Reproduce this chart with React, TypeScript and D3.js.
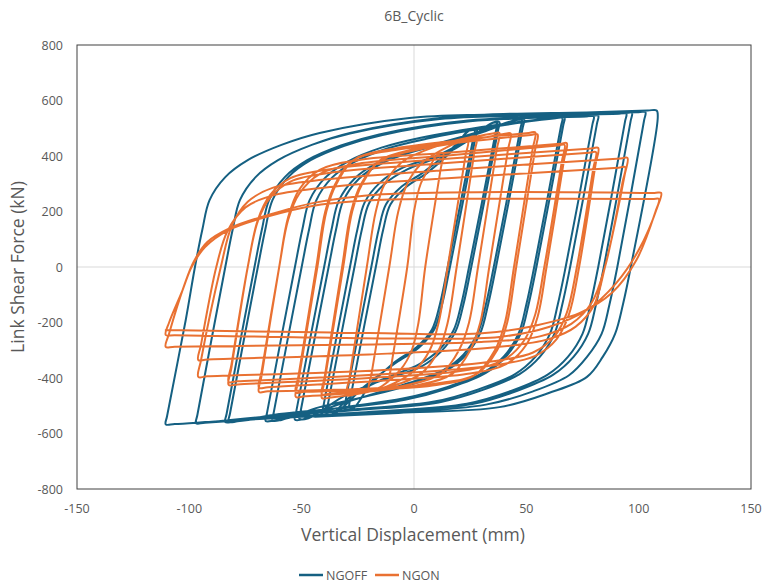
import React from "react";
import * as d3 from "d3";

// Axis ticks and series labels
const X_TICKS = [-150, -100, -50, 0, 50, 100, 150];
const Y_TICKS = [-800, -600, -400, -200, 0, 200, 400, 600, 800];
const SERIES_NAMES = ["NGOFF", "NGON"];
const SERIES_COLORS = ["#156082", "#E97132"];

type Pt = [number, number];

// NGOFF hysteresis: each loop = reloading branch from the negative peak to the
// positive peak, then the unloading branch back toward the next negative peak.
// [displacement (mm), shear force (kN)]
const NGOFF_LOOPS: Pt[][] = [
  [[-29,-505],[-28.4,-475],[-17,0],[-13.7,135],[-10.5,225],[-3.5,288],[6,340],[17,420],[24,490],[27,495],[26.4,465],[15,0],[11.5,-135],[8,-225],[1,-290],[-9,-345],[-20,-430],[-27,-508]],
  [[-31,-510],[-30.4,-480],[-19,0],[-15.7,135],[-12.5,225],[-5.5,290],[4,340],[16,420],[25,494],[28,498],[27.4,468],[16,0],[12.5,-135],[9,-225],[2,-292],[-8,-345],[-22,-430],[-35,-526]],
  [[-39,-528],[-38.4,-498],[-26.5,0],[-23.2,135],[-20,230],[-13,300],[-3,352],[12,400],[25,460],[34,516],[37,518],[36.4,488],[24.5,0],[21,-135],[17.5,-230],[11,-300],[2,-352],[-14,-405],[-28,-465],[-37,-533]],
  [[-41,-535],[-40.4,-505],[-28.5,0],[-25.2,135],[-22,232],[-15,305],[-5,358],[10,400],[24,460],[35,520],[38,522],[37.4,492],[25.5,0],[22,-135],[18.5,-232],[12,-305],[3,-360],[-13,-405],[-30,-460],[-47,-545]],
  [[-51,-547],[-50.4,-517],[-38,0],[-34.7,135],[-31.5,238],[-24.5,318],[-14.5,373],[0.5,418],[17,452],[32,490],[45,529],[48,530],[47.4,500],[35.5,0],[32,-135],[28.5,-236],[22,-316],[13,-372],[-3,-420],[-20,-462],[-37,-505],[-49,-548]],
  [[-53,-550],[-52.4,-520],[-40,0],[-36.7,135],[-33.5,238],[-26.5,318],[-16.5,374],[-1.5,420],[15,455],[32,495],[46,531],[49,532],[48.4,502],[36.5,0],[33,-135],[29.5,-238],[23,-318],[14,-375],[-2,-425],[-22,-468],[-42,-505],[-59,-551]],
  [[-63,-553],[-62.4,-523],[-50,0],[-46.7,135],[-43.5,240],[-36.5,322],[-26.5,379],[-11.5,428],[5.5,462],[35,505],[63,536],[66,537],[65.4,507],[53.5,0],[50,-135],[46.5,-240],[40,-322],[31,-380],[15,-432],[-5,-474],[-35,-510],[-62,-553]],
  [[-66,-555],[-65.4,-525],[-53,0],[-49.7,135],[-46.5,240],[-39.5,322],[-29.5,380],[-14.5,430],[2.5,465],[35,510],[64,538],[67,539],[66.4,509],[54.5,0],[51,-135],[47.5,-240],[41,-322],[32,-382],[16,-435],[-4,-478],[-35,-510],[-60,-530],[-78.5,-556]],
  [[-82.5,-558],[-81.9,-528],[-69.5,0],[-66.2,135],[-63,241],[-56,324],[-46,385],[-31,437],[-14,476],[25,525],[77,542],[80,543],[79.4,513],[67.5,0],[64,-135],[60.5,-241],[54,-324],[45,-386],[29,-440],[9,-485],[-25,-512],[-55,-533],[-80,-557]],
  [[-84,-559],[-83.4,-529],[-71,0],[-67.7,135],[-64.5,241],[-57.5,324],[-47.5,385],[-32.5,438],[-15.5,478],[24,528],[79,544],[82,545],[81.4,515],[69.5,0],[66,-135],[62.5,-241],[56,-324],[47,-386],[31,-442],[11,-488],[-25,-515],[-60,-535],[-93,-560]],
  [[-97,-562],[-96.4,-532],[-84,0],[-80.7,135],[-77.5,241],[-70.5,324],[-60.5,385],[-45.5,440],[-28.5,481],[11.5,533],[46.5,545],[91.5,552],[94.5,553],[93.9,523],[82,0],[78.5,-135],[75,-241],[68.5,-324],[59.5,-388],[43.5,-446],[23.5,-493],[-17,-521],[-57,-540],[-93,-560]],
  [[-97,-562],[-96.4,-532],[-84,0],[-80.7,135],[-77.5,241],[-70.5,324],[-60.5,385],[-45.5,440],[-28.5,482],[11.5,535],[46.5,547],[94,554],[97,555],[96.4,525],[84.5,0],[81,-135],[77.5,-241],[71,-324],[62,-388],[46,-446],[26,-494],[-15,-522],[-55,-540],[-93,-561]],
  [[-97,-563],[-96.4,-533],[-84,0],[-80.7,135],[-77.5,241],[-70.5,324],[-60.5,385],[-45.5,440],[-28.5,483],[11.5,537],[46.5,550],[100,558],[103,558],[102.4,528],[90.5,0],[87,-135],[83.5,-241],[77,-324],[69,-390],[53,-448],[32,-496],[-10,-525],[-50,-540],[-85,-555],[-106.5,-566]],
  [[-110.5,-567],[-109.9,-537],[-101.6,-191],[-97.5,0],[-94.2,135],[-91,241],[-84,324],[-74,385],[-59,440],[-42,483],[-2,537],[33,550],[80,558],[104,564],[108,564],[108.5,540],[96.5,0],[93,-135],[89.5,-241],[84,-324],[77,-396],[60,-454],[38,-505],[-7,-526],[-44,-540]],
];

// NGON hysteresis, same layout as above
const NGON_LOOPS: Pt[][] = [
  [[-11,-400],[-9.8,-340],[-3,0],[0,200],[3,300],[7,360],[10,400],[13,410],[11.8,350],[5,0],[2,-200],[-1,-300],[-6,-370],[-16,-437]],
  [[-20,-440],[-18.8,-380],[-11,0],[-7,200],[-3,300],[3,370],[12,420],[21,452],[24,455],[22.8,395],[15,0],[11,-200],[7,-300],[0,-375],[-12,-430],[-26,-459]],
  [[-30,-462],[-28.8,-402],[-21,0],[-17,200],[-13,300],[-5,380],[10,435],[25,468],[28,470],[26.8,410],[19,0],[15,-200],[11,-300],[3,-385],[-15,-440],[-37,-470]],
  [[-41,-472],[-39.8,-412],[-31.5,0],[-27.5,200],[-23,300],[-15,385],[0,425],[20,457],[35,481],[38,483],[36.8,423],[28.5,0],[24.5,-200],[20,-300],[12,-385],[-3,-425],[-22,-445],[-37,-456]],
  [[-41,-458],[-39.8,-398],[-32,0],[-28,200],[-23.5,300],[-15.5,380],[0,420],[22,452],[40,479],[43,481],[41.8,421],[33.5,0],[29.5,-200],[25,-300],[17,-385],[2,-425],[-25,-452],[-48.6,-466]],
  [[-52.6,-468],[-51.4,-408],[-43,0],[-39,200],[-34.5,300],[-26,390],[-10,425],[20,457],[51,483],[54,485],[52.8,425],[44.5,0],[40.5,-200],[36,-300],[27,-390],[10,-425],[-20,-442],[-48.6,-450]],
  [[-52.6,-452],[-51.4,-392],[-43.5,0],[-39.5,200],[-35,300],[-27,385],[-10,420],[22,450],[52,476],[55,478],[53.8,418],[45.5,0],[41.5,-200],[37,-300],[28,-385],[10,-420],[-25,-440],[-65,-448]],
  [[-69,-450],[-67.8,-390],[-60,0],[-56,180],[-51,280],[-42,350],[-25,385],[15,412],[65,444],[68,446],[66.8,386],[59,0],[55,-180],[50,-280],[41,-350],[24,-385],[-15,-410],[-65,-433]],
  [[-69,-435],[-67.8,-375],[-60,0],[-56,170],[-51,265],[-42,335],[-25,372],[15,402],[64,438],[67,440],[65.8,380],[58,0],[54,-170],[49,-265],[40,-335],[23,-372],[-20,-400],[-78.5,-423]],
  [[-82.5,-425],[-81.3,-365],[-74,0],[-69.5,170],[-64,260],[-55,320],[-35,355],[10,387],[79,427],[82,429],[80.8,369],[73.5,0],[69,-170],[63.5,-260],[54,-320],[35,-355],[-10,-385],[-78.5,-412]],
  [[-82.5,-414],[-81.3,-354],[-74,0],[-69.5,165],[-64,250],[-55,308],[-35,342],[10,372],[78,412],[81,414],[79.8,354],[72.5,0],[68,-165],[62.5,-250],[53,-308],[33,-342],[-15,-372],[-92,-394]],
  [[-96,-396],[-94.8,-336],[-86,0],[-81,150],[-74,235],[-63,285],[-40,315],[10,347],[92,391],[95,393],[93.8,333],[85,0],[80,-140],[72,-215],[60,-260],[35,-290],[-20,-315],[-92,-333]],
  [[-96,-335],[-94.8,-280],[-88,0],[-83,130],[-75,215],[-62,260],[-35,290],[15,320],[91,358],[94,360],[92.8,305],[85,0],[79,-130],[70,-205],[56,-250],[30,-270],[-30,-280],[-106.5,-287]],
  [[-110.5,-288],[-109,-240],[-102,-60],[-98,20],[-92,90],[-82,140],[-66,185],[-44,232],[-14,262],[40,270],[107,267],[110,267],[108.5,220],[100,61],[90,-58],[77,-155],[60,-216],[38,-252],[0,-258],[-60,-252],[-106.5,-246]],
  [[-110.5,-245],[-109,-200],[-103,-83],[-99,0],[-93,72],[-82.5,133],[-66,180],[-44,222],[-14,242],[40,246],[106,245],[109,245],[107.5,200],[99,25],[88,-94],[73.6,-166],[51,-216],[29,-240],[-20,-238],[-110.5,-227]],
];

const FONT = "'Open Sans', 'Noto Sans', sans-serif";
const TEXT = "#595959";

export default function App() {
  const W = 767;
  const H = 585;
  const plot = { left: 77, right: 751, top: 45, bottom: 489 };

  const x = d3.scaleLinear().domain([-150, 150]).range([plot.left, plot.right]);
  const y = d3.scaleLinear().domain([-800, 800]).range([plot.bottom, plot.top]);

  const line = d3
    .line<Pt>()
    .x((d) => x(d[0]))
    .y((d) => y(d[1]))
    .curve(d3.curveCatmullRom.alpha(0.5));

  const paths = [NGOFF_LOOPS, NGON_LOOPS].map((loops) => line(loops.flat() as Pt[]) || "");

  const legendY = 575;
  const legendItems = [
    { x: 299, textX: 326 },
    { x: 375, textX: 402 },
  ];

  return (
    <svg width={W} height={H} style={{ display: "block" }}>
      <style>{"body{margin:0}"}</style>
      <rect x={0} y={0} width={W} height={H} fill="#ffffff" />

      <text x={414} y={21} textAnchor="middle" fontFamily={FONT} fontSize={14} fill={TEXT}>
        6B_Cyclic
      </text>

      {/* zero lines */}
      <line x1={x(0)} x2={x(0)} y1={plot.top} y2={plot.bottom} stroke="#d9d9d9" strokeWidth={1} />
      <line x1={plot.left} x2={plot.right} y1={y(0)} y2={y(0)} stroke="#d9d9d9" strokeWidth={1} />

      <defs>
        <clipPath id="plotClip">
          <rect x={plot.left} y={plot.top} width={plot.right - plot.left} height={plot.bottom - plot.top} />
        </clipPath>
      </defs>

      <g clipPath="url(#plotClip)" fill="none" strokeLinejoin="round" strokeLinecap="round">
        {paths.map((p, i) => (
          <path key={SERIES_NAMES[i]} d={p} stroke={SERIES_COLORS[i]} strokeWidth={2} />
        ))}
      </g>

      <rect
        x={plot.left}
        y={plot.top}
        width={plot.right - plot.left}
        height={plot.bottom - plot.top}
        fill="none"
        stroke="#404040"
        strokeWidth={1}
      />

      {Y_TICKS.map((v) => (
        <text key={v} x={63} y={y(v) + 4.5} textAnchor="end" fontFamily={FONT} fontSize={12.5} fill={TEXT}>
          {v}
        </text>
      ))}
      {X_TICKS.map((v) => (
        <text key={v} x={x(v)} y={513} textAnchor="middle" fontFamily={FONT} fontSize={12.5} fill={TEXT}>
          {v}
        </text>
      ))}

      <text x={413} y={541} textAnchor="middle" fontFamily={FONT} fontSize={17.5} fill={TEXT}>
        Vertical Displacement (mm)
      </text>
      <text
        transform={`translate(24, 267) rotate(-90)`}
        textAnchor="middle"
        fontFamily={FONT}
        fontSize={17.5}
        fill={TEXT}
      >
        Link Shear Force (kN)
      </text>

      {legendItems.map((it, i) => (
        <g key={SERIES_NAMES[i]}>
          <line x1={it.x} x2={it.x + 24} y1={legendY} y2={legendY} stroke={SERIES_COLORS[i]} strokeWidth={2.5} />
          <text x={it.textX} y={legendY + 5} fontFamily={FONT} fontSize={12.5} fill={TEXT}>
            {SERIES_NAMES[i]}
          </text>
        </g>
      ))}
    </svg>
  );
}
